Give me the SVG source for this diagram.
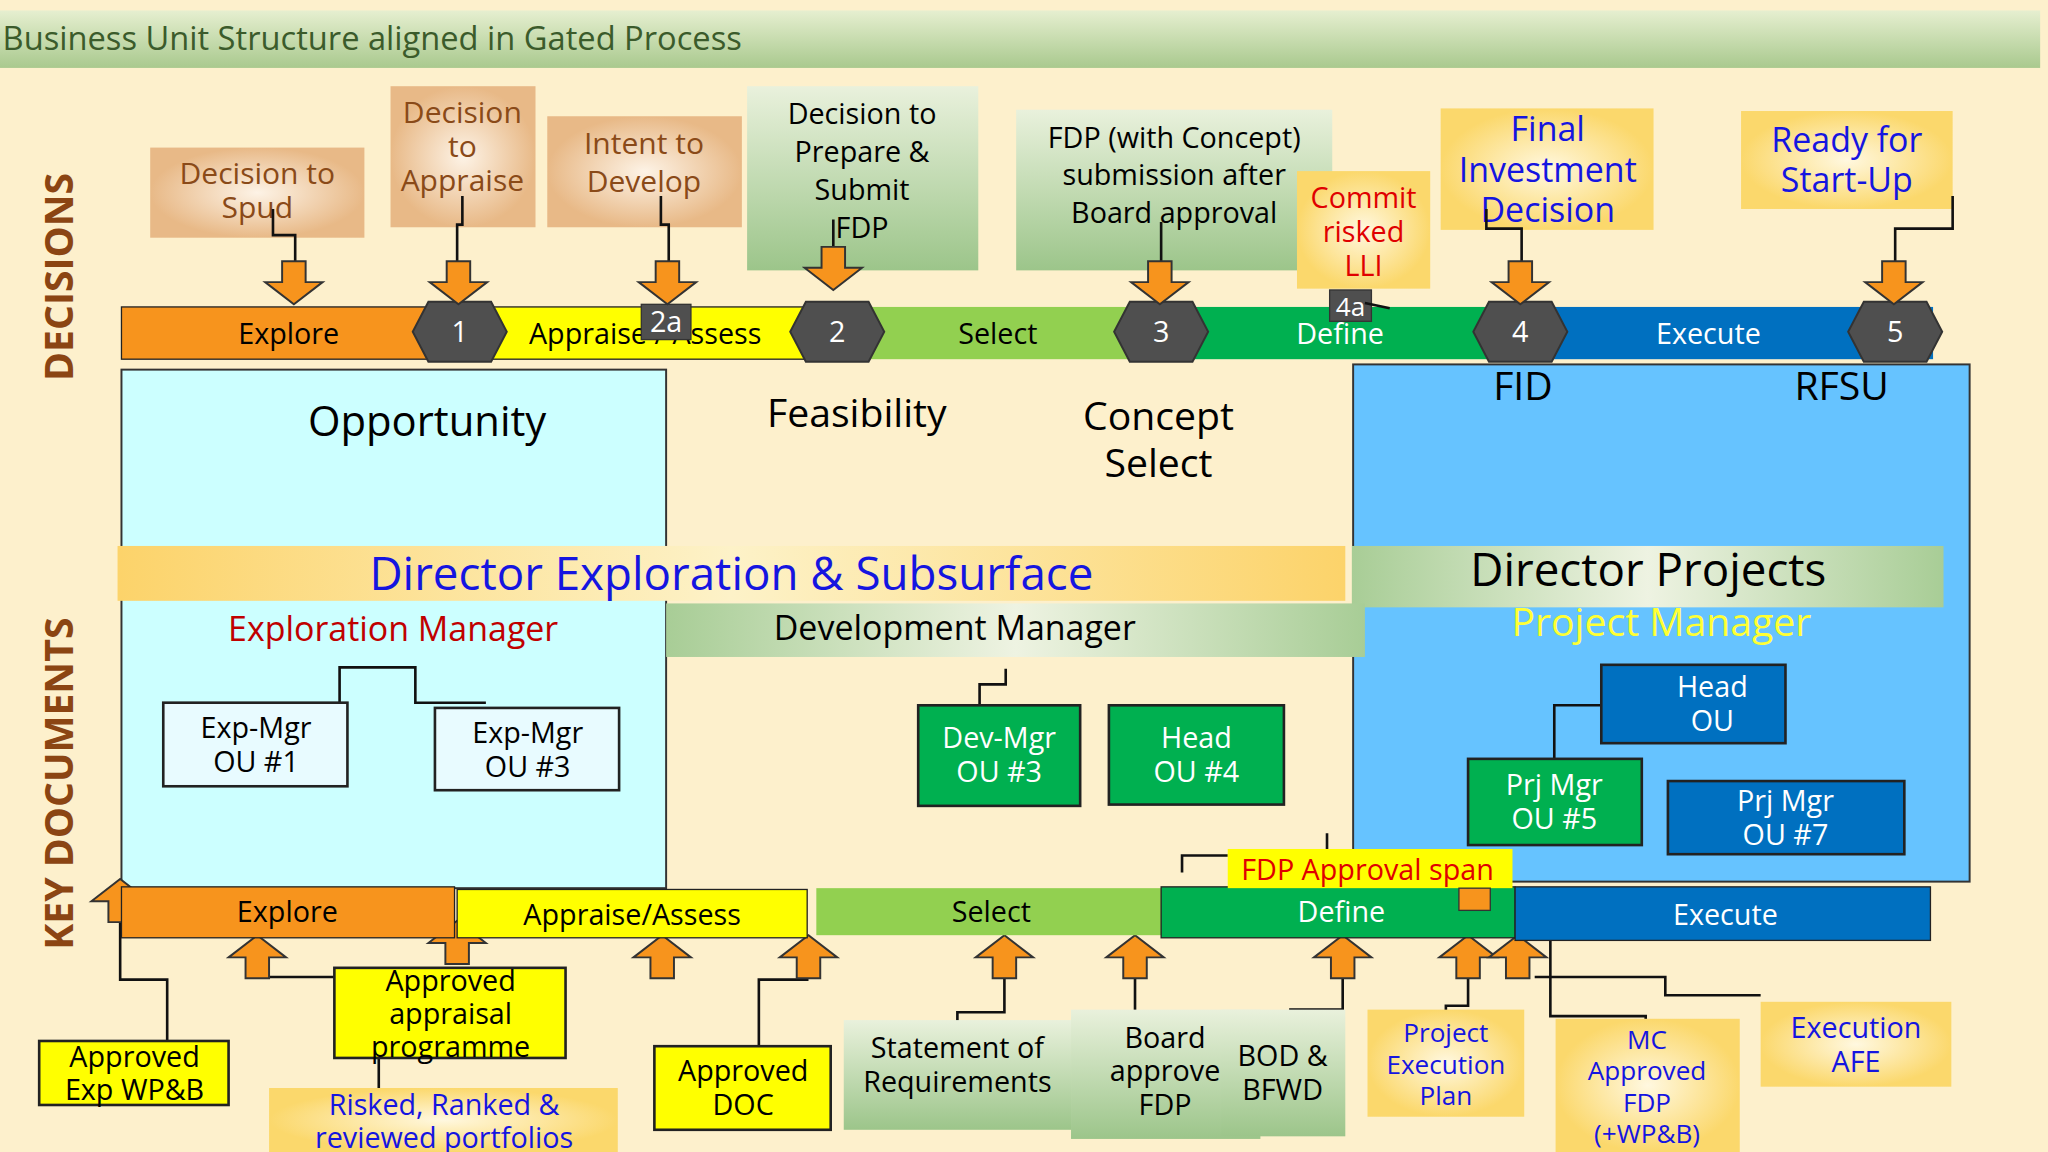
<svg xmlns="http://www.w3.org/2000/svg" width="2048" height="1152" viewBox="0 0 2048 1152">
<defs>
<linearGradient id="gTitle" x1="0" y1="0" x2="0" y2="1"><stop offset="0" stop-color="#e6efd0"/><stop offset="1" stop-color="#a9c98e"/></linearGradient>
<radialGradient id="gTan"><stop offset="0" stop-color="#fdf3e6"/><stop offset="1" stop-color="#e8b987"/></radialGradient>
<linearGradient id="gGreen" x1="0" y1="0" x2="0" y2="1"><stop offset="0" stop-color="#e9f1dc"/><stop offset="1" stop-color="#9cc58a"/></linearGradient>
<radialGradient id="gYel"><stop offset="0" stop-color="#fff8e0"/><stop offset="1" stop-color="#fbd86c"/></radialGradient>
<linearGradient id="gDir" x1="0" y1="0" x2="1" y2="0"><stop offset="0" stop-color="#fcd36a"/><stop offset="0.5" stop-color="#fdf2c8"/><stop offset="1" stop-color="#fcd36a"/></linearGradient>
<linearGradient id="gGH" x1="0" y1="0" x2="1" y2="0"><stop offset="0" stop-color="#a8cd96"/><stop offset="0.5" stop-color="#eef3e2"/><stop offset="1" stop-color="#a8cd96"/></linearGradient>
<path id="dn" d="M-9,-33 h18 v16 h13 l-22,17 l-22,-17 h13 z" fill="#f7941d" stroke="#333" stroke-width="1.5"/>
<path id="up" d="M-9,33 h18 v-16 h13 l-22,-17 l-22,17 h13 z" fill="#f7941d" stroke="#333" stroke-width="1.5"/>
<polygon id="hex" points="-36,0 -24,-23 24,-23 36,0 24,23 -24,23" fill="#4f4f4f" stroke="#333" stroke-width="1.5"/>
</defs>
<style>
text{font-family:"Open Sans","DejaVu Sans",sans-serif;text-anchor:middle}
.t{font-size:22px}
.b{font-size:23px;fill:#8a4a18}
.w{fill:#fff;font-size:22px}
.bl{fill:#1515e0}
.ln{fill:none;stroke:#111;stroke-width:2}
.bx{stroke:#222;stroke-width:2}
</style>
<g transform="scale(1.30612)">
<rect width="1568" height="882" fill="#fdf0cc"/>
<g id="title"><rect x="0" y="8" width="1562" height="44" fill="url(#gTitle)"/><text x="2" y="38" style="text-anchor:start;font-size:25px;fill:#3b5b2b">Business Unit Structure aligned in Gated Process</text></g>
<text transform="translate(56,212) rotate(-90)" style="font-size:30px;fill:#8b4513;font-weight:bold">DECISIONS</text>
<text transform="translate(56,600) rotate(-90)" style="font-size:30px;fill:#8b4513;font-weight:bold">KEY DOCUMENTS</text>

<g id="big-boxes">
<rect x="93" y="283" width="417" height="397" fill="#ccffff" stroke="#333" stroke-width="1.5"/>
<rect x="1036" y="279" width="472" height="396" fill="#66c3ff" stroke="#333" stroke-width="1.5"/>
</g>

<g id="top-bar">
<rect x="93" y="235" width="242" height="40" fill="#f7941d" stroke="#222"/>
<rect x="335" y="235" width="290" height="40" fill="#ffff00" stroke="#222"/>
<rect x="625" y="235" width="245" height="40" fill="#92d050"/>
<rect x="870" y="235" width="270" height="40" fill="#00b050"/>
<rect x="1140" y="235" width="340" height="40" fill="#0070c0"/>
<text x="221" y="263" class="t">Explore</text>
<text x="494" y="263" class="t">Appraise / Assess</text>
<text x="764" y="263" class="t">Select</text>
<text x="1026" y="263" class="t" fill="#fff">Define</text>
<text x="1308" y="263" class="t" fill="#fff">Execute</text>
<use href="#hex" x="352" y="254"/><text x="352" y="262" class="w">1</text>
<use href="#hex" x="641" y="254"/><text x="641" y="262" class="w">2</text>
<use href="#hex" x="889" y="254"/><text x="889" y="262" class="w">3</text>
<use href="#hex" x="1164" y="254"/><text x="1164" y="262" class="w">4</text>
<use href="#hex" x="1451" y="254"/><text x="1451" y="262" class="w">5</text>
<rect x="491" y="233" width="38" height="27" fill="#4f4f4f" stroke="#333"/><text x="510" y="254" class="w">2a</text>
<rect x="1018" y="222" width="32" height="24" fill="#4f4f4f" stroke="#333"/><text x="1034" y="242" class="w" style="font-size:20px">4a</text>
</g>

<g id="decisions">
<rect x="115" y="113" width="164" height="69" fill="url(#gTan)"/><text x="197" y="141" class="b">Decision to</text><text x="197" y="167" class="b">Spud</text>
<rect x="299" y="66" width="111" height="108" fill="url(#gTan)"/><text x="354" y="94" class="b">Decision</text><text x="354" y="120" class="b">to</text><text x="354" y="146" class="b">Appraise</text>
<rect x="419" y="89" width="149" height="85" fill="url(#gTan)"/><text x="493" y="118" class="b">Intent to</text><text x="493" y="147" class="b">Develop</text>
<rect x="572" y="66" width="177" height="141" fill="url(#gGreen)"/><g class="t"><text x="660" y="95">Decision to</text><text x="660" y="124">Prepare &amp;</text><text x="660" y="153">Submit</text><text x="660" y="182">FDP</text></g>
<rect x="778" y="84" width="242" height="123" fill="url(#gGreen)"/><g class="t"><text x="899" y="113">FDP (with Concept)</text><text x="899" y="142">submission after</text><text x="899" y="171">Board approval</text></g>
<rect x="993" y="131" width="102" height="90" fill="url(#gYel)"/><g style="font-size:22px;fill:#e00000"><text x="1044" y="159">Commit</text><text x="1044" y="185">risked</text><text x="1044" y="211">LLI</text></g>
<rect x="1103" y="83" width="163" height="93" fill="url(#gYel)"/><g class="bl" style="font-size:26px"><text x="1185" y="108">Final</text><text x="1185" y="139">Investment</text><text x="1185" y="170">Decision</text></g>
<rect x="1333" y="85" width="162" height="75" fill="url(#gYel)"/><g class="bl" style="font-size:26px"><text x="1414" y="116">Ready for</text><text x="1414" y="147">Start-Up</text></g>
</g>

<g id="connectors">
<path class="ln" d="M209,160 V180 H226 V205 M354,150 V172 H350 V200 M506,150 V172 H512 V200 M638,168 V190 M889,170 V200 M1138,160 V175 H1165 V200 M1495,150 V175 H1451 V200 M1045,232 L1064,236"/>
<path class="ln" d="M260,538 V511 H318 V538 H372 M750,540 V524 H770 V512 M1190,581 V540 H1226 M905,668 V655 H940 M1016,638 V650"/>
<path class="ln" d="M128,797 V750 H92 V705 M197,748 H256 M290,833 V810 M581,801 V750 H619 M733,790 V775 H769 V748 M869,790 V748 M988,800 V773 H1028 V748 M1107,790 V770 H1124 V748 M1160,690 L1187,700 V778 H1260 V798 M1175,748 H1275 V762 H1348"/>
</g>
<g id="arrows">
<use href="#dn" x="225" y="233"/><use href="#dn" x="351" y="233"/><use href="#dn" x="511" y="233"/><use href="#dn" x="638" y="222"/><use href="#dn" x="888" y="233"/><use href="#dn" x="1164" y="233"/><use href="#dn" x="1450" y="233"/>
<use href="#up" x="92" y="673"/><use href="#up" x="197" y="716"/><use href="#up" x="350" y="705"/><use href="#up" x="507" y="716"/><use href="#up" x="619" y="716"/><use href="#up" x="769" y="716"/><use href="#up" x="869" y="716"/><use href="#up" x="1028" y="716"/><use href="#up" x="1124" y="716"/><use href="#up" x="1162" y="716"/>
</g>

<g id="labels">
<text x="327" y="334" style="font-size:32px">Opportunity</text>
<text x="656" y="327" style="font-size:30px">Feasibility</text>
<text x="887" y="329" style="font-size:30px">Concept</text><text x="887" y="365" style="font-size:30px">Select</text>
<text x="1166" y="306" style="font-size:30px">FID</text>
<text x="1410" y="306" style="font-size:30px">RFSU</text>
</g>

<g id="directors">
<rect x="90" y="418" width="940" height="42" fill="url(#gDir)"/><text x="560" y="452" class="bl" style="font-size:35px">Director Exploration &amp; Subsurface</text>
<rect x="1035" y="418" width="453" height="47" fill="url(#gGH)"/><text x="1262" y="449" style="font-size:35px">Director Projects</text>
<text x="301" y="491" style="font-size:26px;fill:#c00000">Exploration Manager</text>
<rect x="510" y="462" width="535" height="41" fill="url(#gGH)"/><text x="731" y="490" style="font-size:26px">Development Manager</text>
<text x="1272" y="487" style="font-size:30px;fill:#ffff33">Project Manager</text>
</g>

<g id="ou-boxes">
<rect x="125" y="538" width="141" height="64" fill="#e8fbff" class="bx"/><text x="196" y="565" class="t">Exp-Mgr</text><text x="196" y="591" class="t">OU #1</text>
<rect x="333" y="542" width="141" height="63" fill="#e8fbff" class="bx"/><text x="404" y="569" class="t">Exp-Mgr</text><text x="404" y="595" class="t">OU #3</text>
<rect x="703" y="540" width="124" height="77" fill="#00b050" class="bx"/><text x="765" y="573" class="w">Dev-Mgr</text><text x="765" y="599" class="w">OU #3</text>
<rect x="849" y="540" width="134" height="76" fill="#00b050" class="bx"/><text x="916" y="573" class="w">Head</text><text x="916" y="599" class="w">OU #4</text>
<rect x="1226" y="509" width="141" height="60" fill="#0070c0" class="bx"/><text x="1311" y="534" class="w">Head</text><text x="1311" y="560" class="w">OU</text>
<rect x="1124" y="581" width="133" height="66" fill="#00b050" class="bx"/><text x="1190" y="609" class="w">Prj Mgr</text><text x="1190" y="635" class="w">OU #5</text>
<rect x="1277" y="598" width="181" height="56" fill="#0070c0" class="bx"/><text x="1367" y="621" class="w">Prj Mgr</text><text x="1367" y="647" class="w">OU #7</text>
</g>

<g id="bottom-bar">
<rect x="93" y="679" width="255" height="39" fill="#f7941d" stroke="#222"/>
<rect x="350" y="681" width="268" height="37" fill="#ffff00" stroke="#222"/>
<rect x="625" y="680" width="265" height="36" fill="#92d050"/>
<rect x="889" y="679" width="271" height="39" fill="#00b050" stroke="#222"/>
<rect x="1160" y="679" width="318" height="41" fill="#0070c0" stroke="#222"/>
<text x="220" y="706" class="t">Explore</text>
<text x="484" y="708" class="t">Appraise/Assess</text>
<text x="759" y="706" class="t">Select</text>
<text x="1027" y="706" class="t" fill="#fff">Define</text>
<text x="1321" y="708" class="t" fill="#fff">Execute</text>
<rect x="940" y="650" width="218" height="30" fill="#ffff00"/><text x="1047" y="674" class="t" fill="#e00000">FDP Approval span</text>
<rect x="1117" y="680" width="24" height="17" fill="#f7941d" stroke="#333"/>
</g>

<g id="docs">
<rect x="30" y="797" width="145" height="49" fill="#ffff00" class="bx"/><text x="103" y="817" class="t">Approved</text><text x="103" y="842" class="t">Exp WP&amp;B</text>
<rect x="256" y="741" width="177" height="69" fill="#ffff00" class="bx"/><text x="345" y="759" class="t">Approved</text><text x="345" y="784" class="t">appraisal</text><text x="345" y="809" class="t">programme</text>
<rect x="206" y="833" width="267" height="49" fill="url(#gYel)"/><text x="340" y="854" class="t bl">Risked, Ranked &amp;</text><text x="340" y="879" class="t bl">reviewed  portfolios</text>
<rect x="501" y="801" width="135" height="64" fill="#ffff00" class="bx"/><text x="569" y="828" class="t">Approved</text><text x="569" y="854" class="t">DOC</text>
<rect x="646" y="781" width="174" height="84" fill="url(#gGreen)"/><text x="733" y="810" class="t">Statement of</text><text x="733" y="836" class="t">Requirements</text>
<rect x="820" y="773" width="145" height="99" fill="url(#gGreen)"/><text x="892" y="802" class="t">Board</text><text x="892" y="828" class="t">approve</text><text x="892" y="854" class="t">FDP</text>
<rect x="935" y="773" width="95" height="97" fill="url(#gGreen)"/><text x="982" y="816" class="t">BOD &amp;</text><text x="982" y="842" class="t">BFWD</text>
<rect x="1047" y="773" width="120" height="82" fill="url(#gYel)"/><g class="bl" style="font-size:20px"><text x="1107" y="798">Project</text><text x="1107" y="822">Execution</text><text x="1107" y="846">Plan</text></g>
<rect x="1191" y="780" width="141" height="102" fill="url(#gYel)"/><g class="bl" style="font-size:20px"><text x="1261" y="803">MC</text><text x="1261" y="827">Approved</text><text x="1261" y="851">FDP</text><text x="1261" y="875">(+WP&amp;B)</text></g>
<rect x="1348" y="767" width="146" height="65" fill="url(#gYel)"/><text x="1421" y="795" class="t bl">Execution</text><text x="1421" y="821" class="t bl">AFE</text>
</g>
</g>
</svg>
